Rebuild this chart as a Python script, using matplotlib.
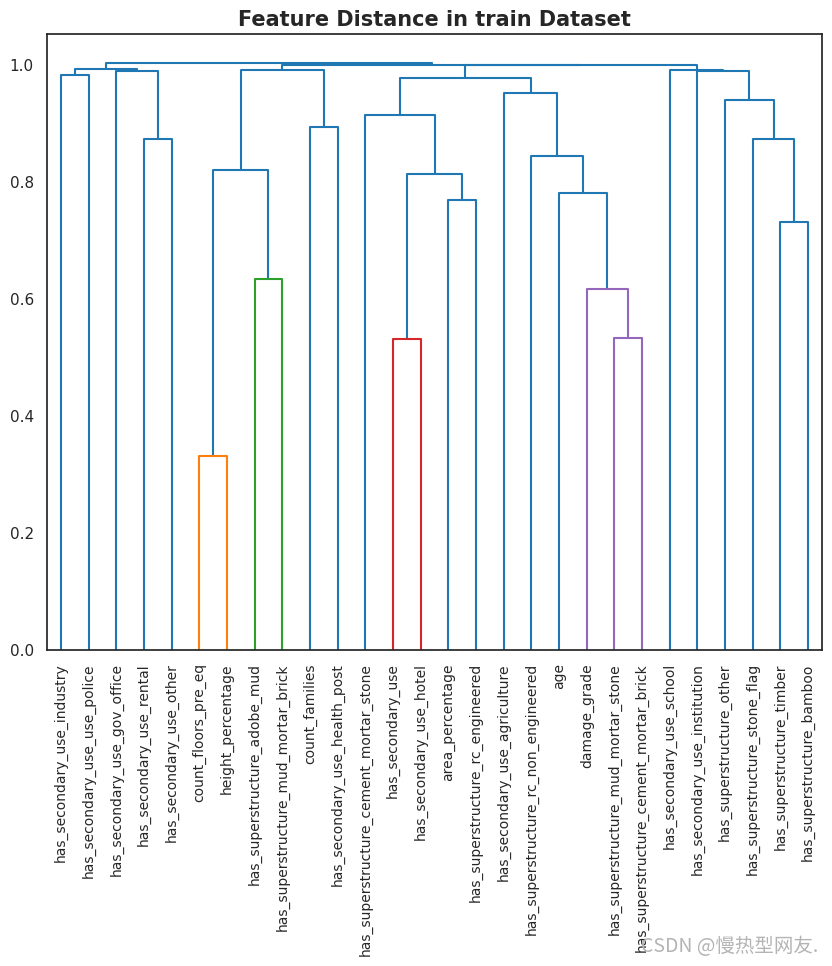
import matplotlib
matplotlib.use("Agg")
import matplotlib.pyplot as plt
import seaborn as sns
from matplotlib.collections import LineCollection

sns.set_theme(style="white")
plt.rcParams['font.family'] = ['DejaVu Sans', 'Noto Sans CJK SC']

# Leaf labels in dendrogram order
leaves = [
    "has_secondary_use_industry", "has_secondary_use_use_police", "has_secondary_use_gov_office",
    "has_secondary_use_rental", "has_secondary_use_other", "count_floors_pre_eq",
    "height_percentage", "has_superstructure_adobe_mud", "has_superstructure_mud_mortar_brick",
    "count_families", "has_secondary_use_health_post", "has_superstructure_cement_mortar_stone",
    "has_secondary_use", "has_secondary_use_hotel", "area_percentage",
    "has_superstructure_rc_engineered", "has_secondary_use_agriculture",
    "has_superstructure_rc_non_engineered", "age", "damage_grade",
    "has_superstructure_mud_mortar_stone", "has_superstructure_cement_mortar_brick",
    "has_secondary_use_school", "has_secondary_use_institution", "has_superstructure_other",
    "has_superstructure_stone_flag", "has_superstructure_timber", "has_superstructure_bamboo",
]

# Linkage: (left child id, right child id, merge distance); new clusters get ids 28, 29, ...
merge_left = [0, 3, 2, 28, 5, 7, 32, 9, 34, 12, 14, 37, 11, 20, 19, 18, 17, 16, 40, 26, 25, 24, 23, 22, 46, 36, 31]
merge_right = [1, 4, 29, 30, 6, 8, 33, 10, 35, 13, 15, 38, 39, 21, 41, 42, 43, 44, 45, 27, 47, 48, 49, 50, 51, 52, 53]
merge_height = [0.983, 0.874, 0.990, 0.9937, 0.331, 0.635, 0.821, 0.894, 0.991, 0.532, 0.770,
                0.814, 0.915, 0.534, 0.618, 0.782, 0.845, 0.952, 0.978, 0.732, 0.874, 0.940,
                0.990, 0.991, 0.9995, 1.001, 1.003]

n = len(leaves)
xpos = {i: 5 + 10 * i for i in range(n)}
ypos = {i: 0.0 for i in range(n)}
children = {}
for k, (a, b, h) in enumerate(zip(merge_left, merge_right, merge_height)):
    cid = n + k
    xpos[cid] = (xpos[a] + xpos[b]) / 2
    ypos[cid] = h
    children[cid] = (a, b)

# Colour like scipy: clusters below 0.7*max get successive palette colours; others blue
above_color = "#1f77b4"
palette = ["#ff7f0e", "#2ca02c", "#d62728", "#9467bd", "#8c564b", "#e377c2", "#7f7f7f", "#bcbd22", "#17becf"]
thresh = 0.7 * max(merge_height)
color = {}
def assign(cid, col):
    color[cid] = col
    for c in children.get(cid, ()):
        if c in children:
            assign(c, col)
root = n + len(merge_height) - 1
counter = [0]
def walk(cid):
    if cid not in children:
        return
    if ypos[cid] < thresh:
        assign(cid, palette[counter[0] % len(palette)])
        counter[0] += 1
        return
    color[cid] = above_color
    a, b = children[cid]
    walk(a)
    walk(b)
walk(root)

fig = plt.figure(figsize=(8.32, 9.66), dpi=100)
ax = fig.add_axes([47 / 832, 1 - 650 / 966, (822 - 47) / 832, (650 - 34) / 966])

segs, cols = [], []
for cid, (a, b) in children.items():
    h = ypos[cid]
    segs.append([(xpos[a], ypos[a]), (xpos[a], h), (xpos[b], h), (xpos[b], ypos[b])])
    cols.append(color[cid])
order = sorted(range(len(segs)), key=lambda i: cols[i] != above_color)
ax.add_collection(LineCollection([segs[i] for i in order], colors=[cols[i] for i in order], linewidths=1.5))

ax.set_xlim(0, 10 * n)
ax.set_ylim(0, 1.05 * max(merge_height))
ax.set_xticks([5 + 10 * i for i in range(n)])
ax.set_xticklabels(leaves, rotation=90, fontsize=10)
ax.set_yticks([0.0, 0.2, 0.4, 0.6, 0.8, 1.0])
ax.set_yticklabels(["0.0", "0.2", "0.4", "0.6", "0.8", "1.0"], fontsize=11)
for s in ax.spines.values():
    s.set_visible(True)
    s.set_color(".15")
    s.set_linewidth(1.25)
ax.set_title("Feature Distance in train Dataset", fontsize=15, fontweight="bold", color=".15")

fig.text(818 / 832, 1 - 946 / 966, "CSDN @慢热型网友.", ha="right", va="center", fontsize=14,
         color="#b4b4b4", family=["Noto Sans CJK SC", "DejaVu Sans"])

fig.savefig("out.png", dpi=100)
